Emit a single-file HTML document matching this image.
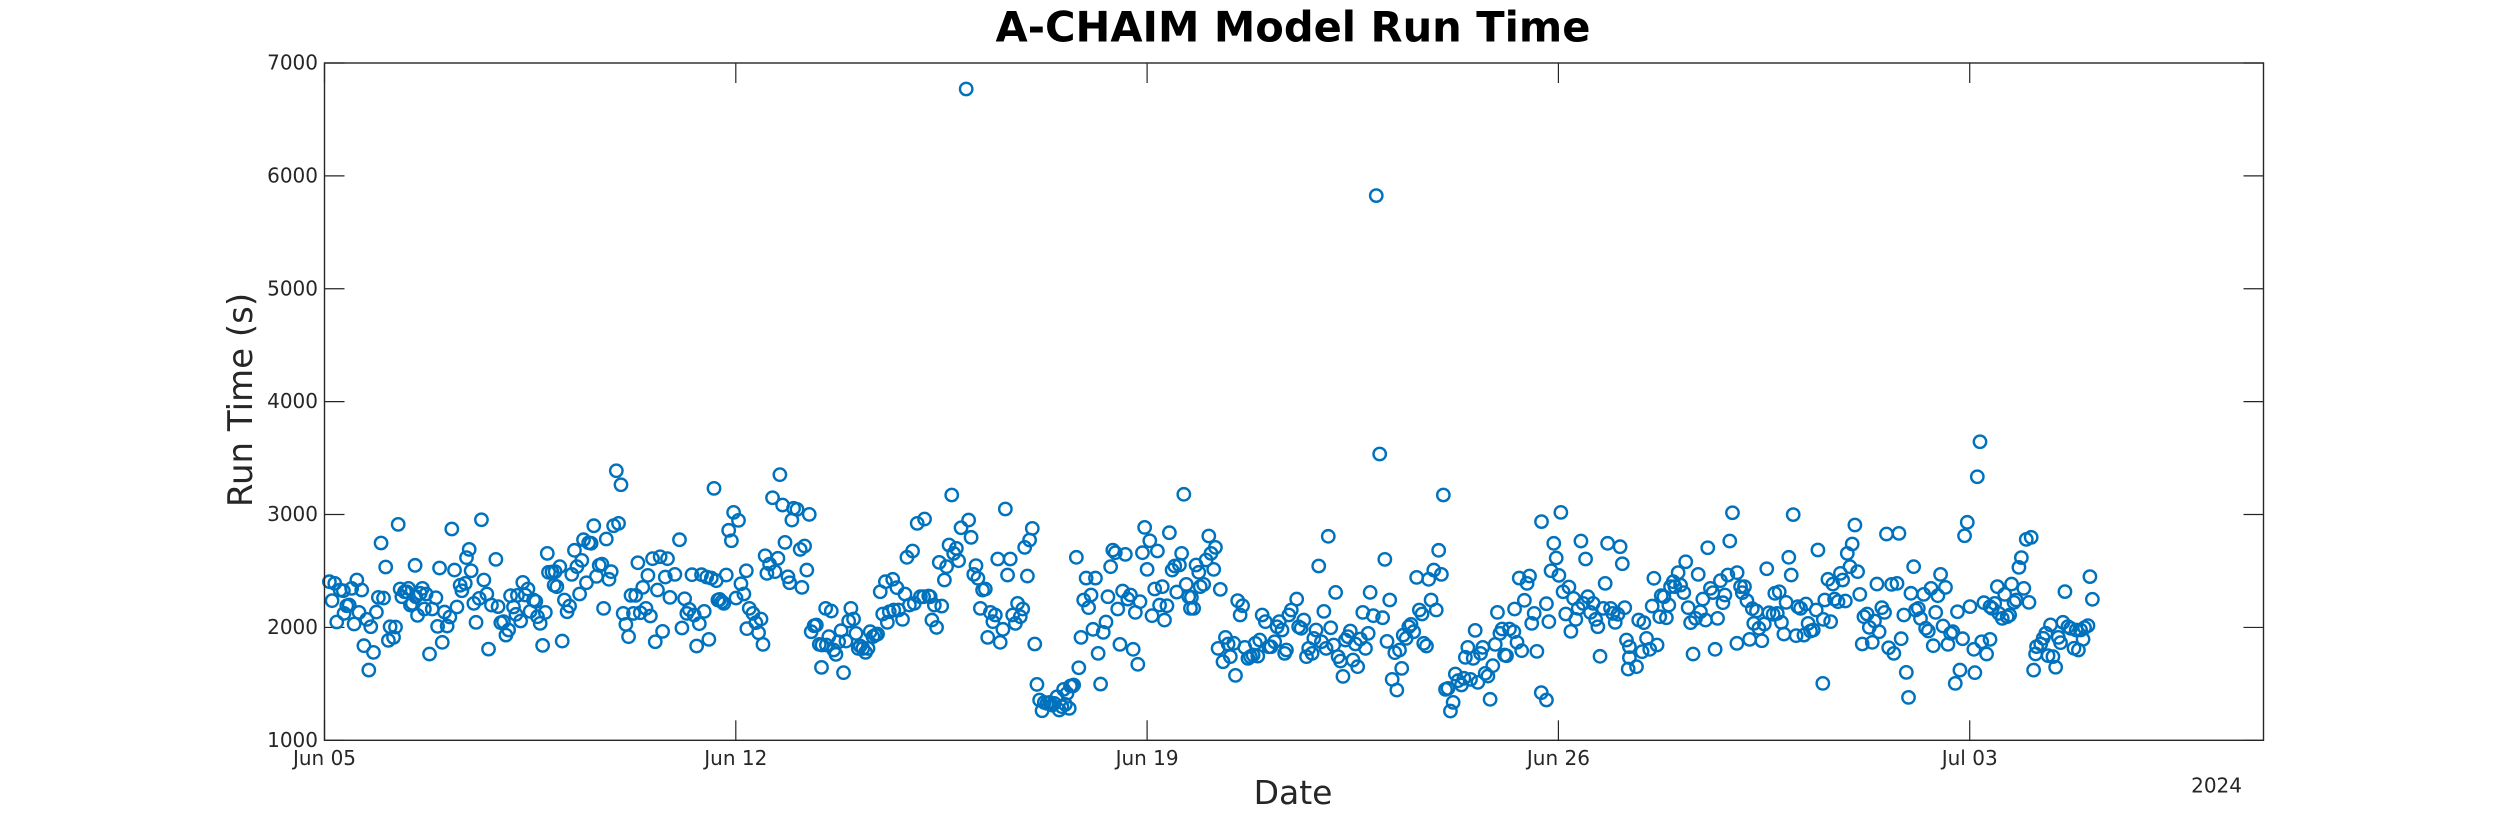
<!DOCTYPE html>
<html>
<head>
<meta charset="utf-8">
<title>A-CHAIM Model Run Time</title>
<style>
html,body{margin:0;padding:0;background:#fff;}
svg{display:block;font-family:"DejaVu Sans","Liberation Sans",sans-serif;}
</style>
</head>
<body>
<svg id="chart" xmlns="http://www.w3.org/2000/svg" width="2500" height="833" viewBox="0 0 2500 833">
  <rect width="2500" height="833" fill="#fff"/>
  <text x="1293" y="41.5" text-anchor="middle" font-size="41.6" font-weight="bold" fill="#000">A-CHAIM Model Run Time</text>
  <text transform="translate(252,400) rotate(-90)" text-anchor="middle" font-size="34" fill="#262626">Run Time (s)</text>
  <text x="1293" y="804" text-anchor="middle" font-size="33" fill="#262626">Date</text>
  <text x="2242" y="792.5" text-anchor="end" font-size="20" fill="#262626">2024</text>
  <g id="ticks"></g>
  <g id="points"></g>
  <rect x="324.5" y="63" width="1939" height="677.3" fill="none" stroke="#262626" stroke-width="1.4"/>
</svg>
<script>
const xTickHours = [0,168,336,504,672];
const xTickLabels = ['Jun 05','Jun 12','Jun 19','Jun 26','Jul 03'];
const yTickValues = [1000,2000,3000,4000,5000,6000,7000];
const xDomain = [0,792];
const yDomain = [1000,7000];
const hoursSinceStart = [
2,3.1,4.2,5,6.4,7.7,8,9.1,10.1,11.1,
12.1,13.2,14.1,15.2,16.1,17.3,18.1,18.9,20,21.2,
22,23.1,24.1,25,26.1,26.8,28.2,29,30.1,30.9,
31.6,32.7,33.6,34.3,35.1,35.9,37,38,37.3,39.1,
40,40.8,41.5,42.9,44,45.5,46.2,47,48.1,49,
50.1,51.2,52,53.1,54.1,55.4,56.1,57.5,58,59.1,
59.9,61,61.9,63.2,64.1,65.1,66.3,67,68.2,70,
70.9,72,73.1,74.1,75.2,76,77.2,78.2,78.8,80.1,
81,82,83.1,84,85.4,86.3,87,88.1,89.1,90.2,
91,91.5,92.9,94.2,93.8,94.9,96.1,97.1,98,99.1,
100.1,101,102.1,103.1,104.2,105.1,105.8,107,107.9,108.9,
110,111.1,112.2,113.3,114,115.1,116.2,117.1,118.1,119.2,
120.1,121.1,122,123.1,124.2,125.2,126.2,127.1,128,129,
130,131.3,132.1,133.1,134,135.1,136,137.1,138.1,139.2,
140.1,141.1,143.1,145,146,147.1,148,149,150.1,151,
152,153.1,154,155.1,156.1,157,158,159.1,160,160.7,
161.4,162.3,163.1,164.1,165.1,166.2,167.1,168.1,169.1,170.1,
171.3,172.3,172.5,173.5,175,176.2,177.3,178.3,179.1,180,
180.7,181.8,183,184,185.2,186,187.1,188.1,189.3,190,
190.9,191.6,193,194.3,196.1,195,197,198,198.8,200,
200.9,202.1,203,203.2,204.7,205,206,207,208,208.9,
210,211,212,213,214.1,215,216.1,217.1,218,218.8,
219.9,221,222,222.9,224,225,225.9,227,228,229.1,
229.9,230.7,232.1,232.5,233.8,234.5,236.1,237.1,237.9,238.9,
240.2,240.9,242.1,243.4,245.1,244.7,246.8,247.4,248.1,249.1,
250,251.1,252.1,253.2,254.1,255.1,256.2,257,258.1,259,
260,262.1,263.1,264.1,265.2,266.1,266.9,267.9,268.8,269.9,
270.9,272,273,274,275,276,277.1,278.1,279,280.1,
281.1,282.2,283.1,284.2,285.2,286,287.1,288,289.1,290.1,
291,292.1,293.1,294,295.1,296.2,297.2,298.1,299.2,300.1,
301.2,301.9,302.6,303.3,304.2,304.7,305.6,306,307.1,308.1,
309,310.1,311.1,312.1,313.1,313.9,314.9,316,317,318.1,
319.2,320,321.1,322,323,324,324.9,326,327.1,328.1,
329.2,330.3,331.2,332.2,333.1,334.1,335,336,337.1,338,
339.1,340.2,341.1,342.2,343.1,344.1,345.1,346.2,347.3,348.1,
349.2,350.1,351,352,353,353.7,354.1,355,356,357.1,
357.7,359.1,360.1,361.2,362.1,363.2,363.9,365,365.9,367,
368,369.1,370,371.4,372.1,373,374,375,375.9,377.2,
378.2,379.3,380.2,381.2,382,383,384.3,385.7,386.6,388.1,
389.1,390,391.1,392.2,392.9,393.9,394.9,397.1,397.9,398.9,
400,401.1,402,403.4,404.1,405,406.1,407.2,408.2,409.1,
410,411,412.2,413,414,415,416,417,418,419,
420.1,421.1,422,423.1,424.1,425.2,426.3,427.1,428.4,429.6,
431,432.2,433.1,434,435.1,436.1,437.2,438,439.1,440,
440.6,441.8,442.9,443.8,444.9,446.1,447.2,448.3,449,450.1,
451,452,453.1,454.1,455.1,456.2,457,457.9,458.9,459.9,
461,461.9,463,464.4,465.4,466,467,468.1,469.2,470,
471.1,472.2,473.1,474.1,475.2,476.1,477.2,478.2,479.1,480.1,
481,482,482.8,484,485.8,486.1,487.1,488,489,490.1,
491.2,492.2,493.1,494.1,495.2,497.1,497,499.1,499.1,500.1,
501,502.1,503.1,504.2,505,505.9,507,508.3,509.1,510.2,
511.1,512.1,513.2,514.1,515.1,516,517.1,518.2,519.2,520.1,
521,522.3,523.1,524.1,525.3,526.2,527.2,528.3,529.2,530.1,
531.1,531.8,533,533,532.5,535.9,536.8,538.2,538.9,540,
541.3,542.3,543,544.3,545.4,546,547.1,548.1,549.1,549.8,
550.9,551.6,552.9,553.9,555.2,556,557,558,559,560,
561.1,562,563,564.1,565,566.1,567.1,568,569,570.2,
571.2,572,573.2,574,575.1,577,576.9,578.4,579.1,580,
581,582.1,583.2,583.8,584.9,585.9,587.1,588.1,589.1,590,
591.7,592.4,593.4,594.2,595.1,596.1,597,598.1,599.1,599.9,
601.1,601.8,602.9,604.3,605.1,606,607,608.1,609.3,610,
612,612.2,612.8,614.1,615.2,616.1,616.8,618.2,619.2,620.1,
621.2,622,623.1,624,625.1,626.2,627.1,628.1,628.8,630.1,
631,632.2,633.1,634.1,635,636.1,637.2,638,638.9,640.1,
641,642.3,643.1,644,645.1,646.1,647,648,649.1,649.9,
651,651.9,653.2,654,655.1,656.2,657.1,658.1,659,660.1,
661.1,662.1,663.1,664.2,665.1,666.1,667,668,669.1,669.9,
671,672.1,673.7,674.1,675.1,676.2,676.9,677.8,678.9,680.3,
681.2,680.3,682.2,683.3,683.9,685.3,686.3,687.3,688.3,689.1,
690.1,691,692.1,693.1,694.1,695.1,696.2,697.1,698.1,698.9,
699.3,701,702,703.1,704,705,706,707.1,708.2,709.1,
710.1,710.9,712.1,713.2,714.6,715.5,716.4,717.3,718.3,718.9,
720.3,721.1,722.1
];
const runTimeSeconds = [
2405,2237,2390,2048,2331,2325,2124,2192,2198,2346,
2030,2420,2133,2331,1838,2071,1622,2006,1779,2136,
2266,2748,2260,2535,1885,2006,1912,2003,2913,2340,
2272,2316,2316,2346,2198,2213,2550,2107,2272,2302,
2346,2163,2296,1764,2163,2263,2009,2526,1868,2136,
2012,2092,2872,2508,2181,2373,2325,2390,2618,2691,
2502,2213,2045,2257,2954,2420,2296,1808,2198,2603,
2184,2042,2051,1932,1977,2281,2181,2116,2284,2057,
2399,2287,2340,2142,2243,2231,2095,2036,1841,2133,
2656,2488,2491,2494,2373,2361,2538,1879,2243,2139,
2189,2470,2683,2538,2296,2594,2777,2396,2750,2745,
2901,2452,2550,2561,2169,2783,2426,2494,2901,3388,
2922,3264,2124,2027,1918,2284,2124,2284,2573,2130,
2355,2169,2461,2101,2609,1873,2331,2626,1965,2446,
2609,2266,2470,2777,1995,2254,2124,2160,2467,2110,
1835,2033,2467,2142,2446,1894,2437,3232,2414,2243,
2248,2228,2213,2464,2860,2768,3019,2260,2948,2387,
2296,2502,1989,2169,2124,2042,1953,2074,1850,2635,
2479,2561,3149,2494,2612,3353,3084,2753,2449,2396,
2951,3055,3046,2691,2721,2355,2508,3001,1962,2015,
2021,1850,1646,1844,2169,1844,1918,2145,1800,1761,
1873,1971,1599,1879,2057,2169,2074,1947,1814,1835,
1814,1779,1814,1962,1918,1932,1941,2316,2119,2405,
2045,2139,2426,2154,2352,2154,2071,2296,2621,2198,
2677,2213,2922,2272,2960,2272,2278,2272,2065,2198,
2000,2576,2189,2420,2538,2730,3173,2656,2700,2591,
2883,6770,2951,2798,2470,2547,2435,2169,2331,2340,
1912,2133,2051,2110,2606,1868,1983,3049,2464,2606,
2110,2036,2213,2095,2163,2709,2455,2774,2877,1853,
1495,1357,1262,1336,1327,1336,1312,1327,1386,1268,
1298,1451,1318,1416,1283,1481,1481,1490,2621,1643,
1912,2243,2437,2175,2287,1983,2437,1770,1498,1956,
2048,2272,2538,2685,2662,2163,1850,2322,2647,2251,
2287,1806,2133,1673,2228,2662,2886,2514,2768,2104,
2340,2677,2198,2361,2065,2192,2839,2508,2544,2313,
2553,2656,3179,2381,2272,2169,2266,2169,2553,2488,
2361,2381,2597,2810,2656,2514,2709,1814,2337,1696,
1912,1853,1741,1859,1575,2237,2110,2192,1823,1726,
1741,1755,1859,1746,1888,2110,2051,1829,1829,1873,
2006,2051,1977,1770,1800,2110,2154,2251,2006,1992,
2065,1741,1814,1770,1903,1977,2544,1873,2142,1814,
2807,1997,1844,2310,1741,1702,1566,1888,1918,1968,
1711,1853,1652,1897,2133,1814,1947,2310,2104,5825,
3536,2086,2603,1876,2243,1540,1776,1445,1800,1637,
1932,1903,2006,2027,1962,2443,2154,2119,1859,1835,
2426,2243,2508,2154,2683,2470,3173,1451,1460,1259,
1336,1587,1528,1490,1549,1735,1823,1540,1726,1974,
1513,1770,1823,1593,1569,1363,1661,1850,2133,1947,
1986,1755,1749,1986,1962,2163,1868,2437,1794,2240,
2390,2455,2036,2124,1788,2937,1422,2210,1357,2051,
2502,2745,2615,2461,3019,2316,2119,2358,1965,2257,
2071,2169,2765,2213,2606,2272,2133,2213,2071,2006,
1744,2169,2390,2745,2169,2124,2045,2116,2715,2564,
2175,1888,1829,1732,1631,1652,2065,1785,2042,1903,
1806,2189,2435,1844,2095,2281,2272,2086,2198,2361,
2405,2361,2485,2375,2308,2582,2175,2042,1764,2080,
2470,2139,2251,2065,2706,2346,2308,1806,2080,2414,
2219,2287,2464,2765,3016,2485,1859,2361,2308,2361,
2237,1894,2166,2036,2145,1992,1882,2030,2520,2130,
2116,2302,2124,2316,2045,1941,2222,2621,2464,2999,
1927,2184,2169,1932,2207,2036,1968,1977,2154,2686,
1504,2071,2243,2426,2051,2384,2251,2228,2479,2420,
2234,2656,2538,2739,2907,2494,2293,1853,2095,2119,
2000,1868,2057,2384,1962,2175,2133,2827,1820,2381,
1770,2390,2833,1900,2110,1602,1380,2302,2538,2154,
2169,2080,2293,1992,1968,2346,1838,2133,2281,2470,
2012,2355,1850,1947,1962,1504,2139,1622,1900,2812,
2931,2184,1806,1599,3335,3645,1873,2219,1764,2184,
2169,1894,2213,2361,2124,2080,2293,2095,2110,2384,
2222,2243,2532,2618,2346,2780,2222,2798,1622,1765,
1830,1853,1904,1948,1750,2022,1741,1647,1912,1865,
2045,2317,2007,1992,1815,1977,1800,1977,1895,1998,
2016,2450,2249
];
const svgNS = 'http://www.w3.org/2000/svg';
const plot = {left:324.5, right:2263.5, top:63, bottom:740.3};
function xScale(h){ return plot.left + (h - xDomain[0]) / (xDomain[1] - xDomain[0]) * (plot.right - plot.left); }
function yScale(v){ return plot.bottom - (v - yDomain[0]) / (yDomain[1] - yDomain[0]) * (plot.bottom - plot.top); }
function make(tag, attrs){
  const el = document.createElementNS(svgNS, tag);
  for (const k in attrs) el.setAttribute(k, attrs[k]);
  return el;
}
const tickG = document.getElementById('ticks');
const TICK = 20;
function tickLine(x1, y1, x2, y2){
  const ln = make('line', {x1:x1, y1:y1, x2:x2, y2:y2, stroke:'#262626', 'stroke-width':1.2});
  
  
  tickG.appendChild(ln);
}
xTickHours.forEach(function(h, i){
  const x = xScale(h);
  tickLine(x, plot.bottom, x, plot.bottom - TICK);
  tickLine(x, plot.top, x, plot.top + TICK);
  const t = make('text', {x:x, y:765, 'text-anchor':'middle', 'font-size':20, fill:'#262626'});
  t.textContent = xTickLabels[i];
  
  
  tickG.appendChild(t);
});
yTickValues.forEach(function(v){
  const y = yScale(v);
  tickLine(plot.left, y, plot.left + TICK, y);
  tickLine(plot.right, y, plot.right - TICK, y);
  const t = make('text', {x:318, y:y + 6.5, 'text-anchor':'end', 'font-size':20, fill:'#262626'});
  t.textContent = String(v);
  
  
  tickG.appendChild(t);
});
const pointsG = document.getElementById('points');
const count = Math.min(hoursSinceStart.length, runTimeSeconds.length);
for (let i = 0; i < count; i++){
  const c = make('circle', {cx:xScale(hoursSinceStart[i]), cy:yScale(runTimeSeconds[i]), r:6.2, fill:'none', stroke:'#0072BD', 'stroke-width':2.4});
  
  
  pointsG.appendChild(c);
}
</script>
</body>
</html>
